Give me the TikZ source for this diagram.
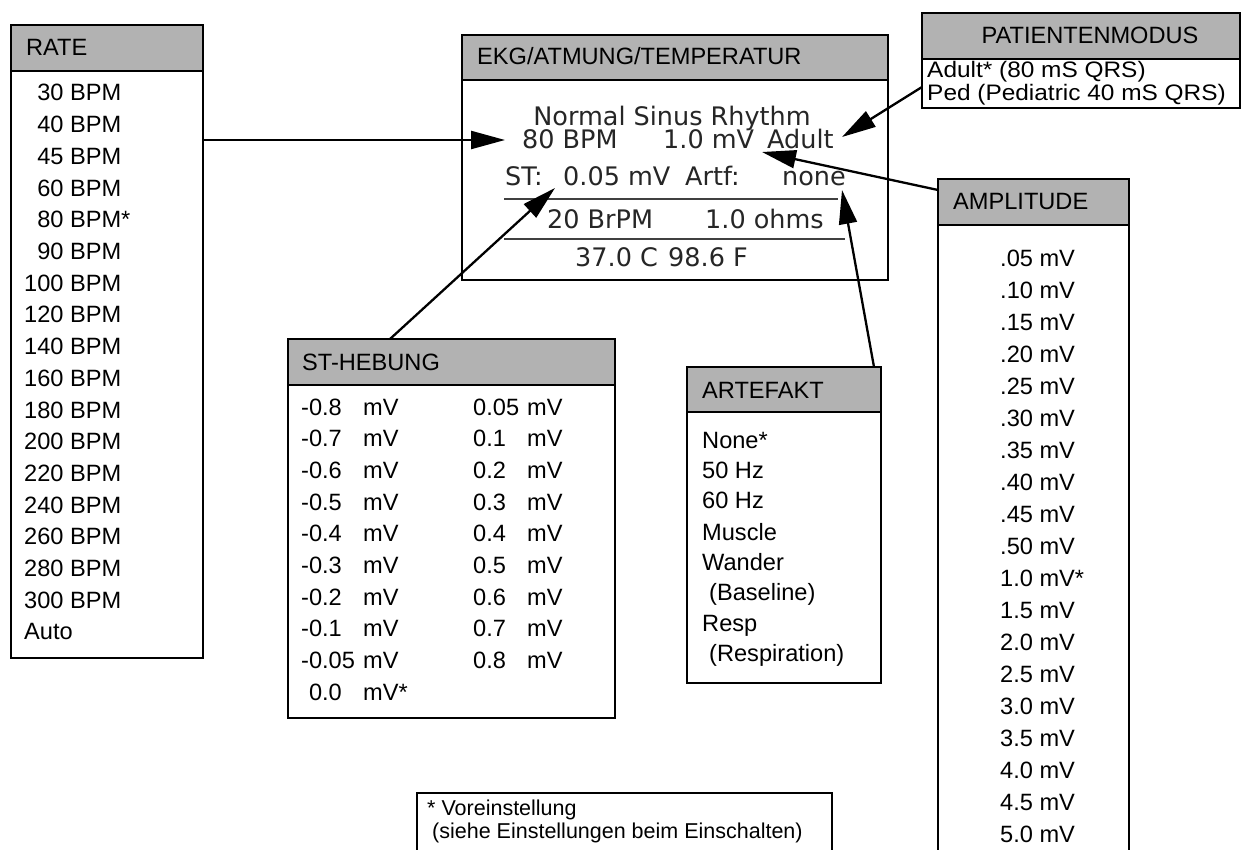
\documentclass[tikz,border=0pt]{standalone}
\usepackage{fontspec}
\setmainfont{Liberation Sans}
\newfontfamily\lcdfont{DejaVu Sans}
\newfontfamily\patfont[FakeStretch=1.09]{Liberation Sans}
\usetikzlibrary{arrows.meta}
\begin{document}
\begin{tikzpicture}[x=1pt,y=-1pt,
 boxframe/.style={draw=black, line width=1.8pt, fill=white, inner sep=0pt, outer sep=0pt, anchor=north west},
 hdrbar/.style={draw=black, line width=1.8pt, fill=black!30, inner sep=0pt, outer sep=0pt, anchor=north west},
 txt/.style={anchor=base west, inner sep=0pt, font=\fontsize{23.6}{24}\selectfont},
 hdrtxt/.style={txt},
 pattxt/.style={anchor=base west, inner sep=0pt, font=\patfont\fontsize{22.4}{23}\selectfont},
 small/.style={anchor=base west, inner sep=0pt, font=\fontsize{21.5}{22}\selectfont},
 lcd/.style={anchor=base west, inner sep=0pt, text=black!85, font=\lcdfont\fontsize{25.5}{26}\selectfont},
 ptr/.style={line width=2.3pt, -{Triangle[length=34pt,width=18pt]}},
 rule/.style={line width=2.8pt, draw=black!75},
]
\useasboundingbox (0,0) rectangle (1246,850);
\clip (0,0) rectangle (1246,850);

% ---------- RATE ----------
\node[boxframe, minimum width=192, minimum height=633] (rate) at (11,25) {};
\node[hdrbar, minimum width=192, minimum height=46] (rateH) at (11,25) {};
\node[hdrtxt] (rateT) at (26,56) {RATE};
\foreach \t [count=\i from 0] in {\phantom{0}30 BPM,\phantom{0}40 BPM,\phantom{0}45 BPM,\phantom{0}60 BPM,\phantom{0}80 BPM*,\phantom{0}90 BPM,100 BPM,120 BPM,140 BPM,160 BPM,180 BPM,200 BPM,220 BPM,240 BPM,260 BPM,280 BPM,300 BPM,Auto}
  \node[txt] (rate-\i) at (24,{101+\i*31.7}) {\t};

% ---------- EKG display ----------
\node[boxframe, minimum width=426, minimum height=245] (ekg) at (462,35) {};
\node[hdrbar, minimum width=426, minimum height=45] (ekgH) at (462,35) {};
\node[hdrtxt] (ekgT) at (477,65) {EKG/ATMUNG/TEMPERATUR};
\node[lcd, anchor=base] (nsr) at (672,126) {Normal Sinus Rhythm};
\node[lcd] (bpm) at (522,149) {80 BPM};
\node[lcd] (mv) at (663,149) {1.0 mV};
\node[lcd] (adult) at (767,149) {Adult};
\node[lcd] (st) at (505,186) {ST:};
\node[lcd] (stv) at (563,186) {0.05 mV};
\node[lcd] (artf) at (685,186) {Artf:};
\node[lcd] (none) at (782,186) {none};
\draw[rule] (504,199) -- (838,199);
\node[lcd] (brpm) at (547,229) {20 BrPM};
\node[lcd] (ohms) at (705,229) {1.0 ohms};
\draw[rule] (504,239) -- (845,239);
\node[lcd] (degc) at (575,266) {37.0 C};
\node[lcd] (degf) at (668,266) {98.6 F};

% ---------- PATIENTENMODUS ----------
\node[boxframe, minimum width=318, minimum height=95] (pat) at (922,13) {};
\node[hdrbar, minimum width=318, minimum height=46] (patH) at (922,13) {};
\node[txt, anchor=base] (patT) at (1090,44) {PATIENTENMODUS};
\node[pattxt] (pat1) at (927,78) {Adult* (80 mS QRS)};
\node[pattxt] (pat2) at (927,100.5) {Ped (Pediatric 40 mS QRS)};

% ---------- AMPLITUDE ----------
\node[boxframe, minimum width=191, minimum height=720] (amp) at (938,179) {};
\node[hdrbar, minimum width=191, minimum height=46] (ampH) at (938,179) {};
\node[hdrtxt] (ampT) at (953,210) {AMPLITUDE};
\foreach \t [count=\i from 0] in {.05 mV,.10 mV,.15 mV,.20 mV,.25 mV,.30 mV,.35 mV,.40 mV,.45 mV,.50 mV,1.0 mV*,1.5 mV,2.0 mV,2.5 mV,3.0 mV,3.5 mV,4.0 mV,4.5 mV,5.0 mV}
  \node[txt] (amp-\i) at (1000,{266+\i*32.05}) {\t};

% ---------- ST-HEBUNG ----------
\node[boxframe, minimum width=327, minimum height=379] (sth) at (288,339) {};
\node[hdrbar, minimum width=327, minimum height=46] (sthH) at (288,339) {};
\node[hdrtxt] (sthT) at (302,370) {ST-HEBUNG};
\foreach \t [count=\i from 0] in {-0.8,-0.7,-0.6,-0.5,-0.4,-0.3,-0.2,-0.1,-0.05}
  \node[txt] (stl-\i) at (301,{415+\i*31.7}) {\makebox[62pt][l]{\t}mV};
\node[txt] (stl-9) at (301,{415+9*31.7}) {\makebox[62pt][l]{\phantom{-}0.0}mV*};
\foreach \t [count=\i from 0] in {0.05,0.1,0.2,0.3,0.4,0.5,0.6,0.7,0.8}
  \node[txt] (str-\i) at (473,{415+\i*31.7}) {\makebox[54pt][l]{\t}mV};

% ---------- ARTEFAKT ----------
\node[boxframe, minimum width=194, minimum height=316] (art) at (687,367) {};
\node[hdrbar, minimum width=194, minimum height=45] (artH) at (687,367) {};
\node[hdrtxt] (artT) at (702,398) {ARTEFAKT};
\node[txt] (art-0) at (702,448) {None*};
\node[txt] (art-1) at (702,478) {50 Hz};
\node[txt] (art-2) at (702,508) {60 Hz};
\node[txt] (art-3) at (702,540) {Muscle};
\node[txt] (art-4) at (702,570) {Wander};
\node[txt] (art-5) at (709,600) {(Baseline)};
\node[txt] (art-6) at (702,631) {Resp};
\node[txt] (art-7) at (709,661) {(Respiration)};

% ---------- footnote ----------
\node[boxframe, minimum width=415, minimum height=80] (foot) at (417,793) {};
\node[small] (foot1) at (427,815) {* Voreinstellung};
\node[small] (foot2) at (432,838) {(siehe Einstellungen beim Einschalten)};

% ---------- pointers ----------
\coordinate (tRate) at (505,140);
\coordinate (sPat) at (922,87);  \coordinate (tPat) at (842,137);
\coordinate (sAmp) at (938,190); \coordinate (tAmp) at (762,152);
\coordinate (sSt) at (390,339);  \coordinate (tSt) at (555,188);
\coordinate (sArt) at (874,367); \coordinate (tArt) at (842,190);
\draw[ptr] (rate.east |- tRate) -- (tRate);
\draw[ptr] (sPat) -- (tPat);
\draw[ptr] (sAmp) -- (tAmp);
\draw[ptr] (sSt) -- (tSt);
\draw[ptr] (sArt) -- (tArt);
\end{tikzpicture}
\end{document}
